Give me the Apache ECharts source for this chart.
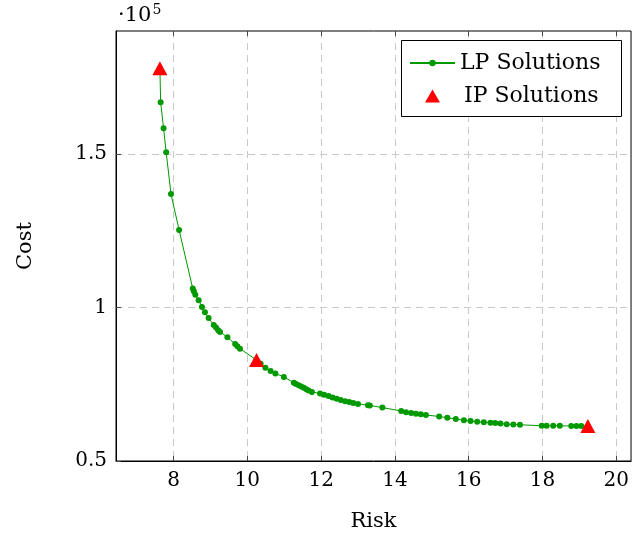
<!DOCTYPE html>
<html>
<head>
<meta charset="utf-8">
<title>LP / IP Solutions</title>
<script src="https://cdn.jsdelivr.net/npm/echarts@6/dist/echarts.min.js"></script>
<style>
  html, body { margin: 0; padding: 0; background: #fff; }
  #chart { width: 632px; height: 538px; }
</style>
</head>
<body>
<div id="chart"></div>
<script>
// data (risk, cost in $)
var lpRisk = [7.63, 7.65, 7.73, 7.80, 7.93, 8.15, 8.52, 8.55, 8.59, 8.68, 8.77, 8.85, 8.95,
  9.09, 9.15, 9.21, 9.26, 9.46, 9.67, 9.73, 9.80, 10.25, 10.36, 10.49, 10.63, 10.76, 10.99,
  11.26, 11.32, 11.39, 11.46, 11.53, 11.60, 11.66, 11.75, 11.97, 12.08, 12.20, 12.31, 12.42,
  12.53, 12.65, 12.76, 12.87, 13.00, 13.27, 13.32, 13.66, 14.17, 14.30, 14.44, 14.57, 14.70,
  14.84, 15.20, 15.42, 15.65, 15.87, 16.05, 16.23, 16.41, 16.59, 16.72, 16.86, 17.03, 17.21,
  17.39, 17.98, 18.11, 18.29, 18.47, 18.78, 18.92, 19.05, 19.23];
var lpCost = [178000, 166900, 158400, 150600, 137000, 125300, 106200, 105300, 104200, 102400,
  100200, 98500, 96600, 94300, 93500, 92600, 92000, 90300, 88100, 87400, 86600, 82900, 81700,
  80400, 79300, 78500, 77400, 75500, 75100, 74700, 74300, 73900, 73400, 73000, 72500, 72000,
  71600, 71200, 70700, 70300, 69900, 69500, 69200, 68900, 68600, 68200, 68100, 67400, 66300,
  65900, 65600, 65400, 65200, 65000, 64500, 64100, 63700, 63300, 63000, 62800, 62600, 62500,
  62400, 62200, 62000, 61900, 61800, 61500, 61500, 61500, 61500, 61400, 61400, 61400, 61400];
var ipRisk = [7.63, 10.25, 19.23];
var ipCost = [178000, 82900, 61400];

var xTicks = [8, 10, 12, 14, 16, 18, 20];
var yTicks = [50000, 100000, 150000];
var yTickLabels = ['0.5', '1', '1.5'];

var serif = 'DejaVu Serif';
var green = '#009900';
var triPath = 'path://M0,0L1,-1.732L2,0Z';

function pairs(xs, ys) {
  var out = [];
  for (var i = 0; i < xs.length; i++) out.push([xs[i], ys[i]]);
  return out;
}

var chart = echarts.init(document.getElementById('chart'));
chart.setOption({
  animation: false,
  backgroundColor: '#fff',
  title: {
    text: '{a|·10}{s|5}',
    left: 113,
    top: -2,
    textStyle: {
      fontWeight: 'normal',
      rich: {
        a: { fontFamily: serif, fontSize: 21, fontWeight: 'normal', color: '#000' },
        s: { fontFamily: serif, fontSize: 14, fontWeight: 'normal', color: '#000', verticalAlign: 'top', padding: [0, 0, 12, 1] }
      }
    }
  },
  // legend frame
  graphic: [{
    type: 'rect',
    left: 401,
    top: 40,
    shape: { width: 220, height: 76 },
    style: { fill: '#fff', stroke: '#000', lineWidth: 1 },
    z: 90
  }],
  legend: [{
    left: 409,
    top: 52,
    padding: 0,
    itemWidth: 45,
    itemHeight: 8,
    itemGap: 0,
    textStyle: { fontFamily: serif, fontSize: 22, color: '#000' },
    data: ['LP Solutions'],
    z: 100
  }, {
    left: 425,
    top: 85,
    padding: 0,
    itemWidth: 15,
    itemHeight: 14,
    textStyle: { fontFamily: serif, fontSize: 22, color: '#000', padding: [0, 0, 0, 19] },
    data: [{ name: 'IP Solutions', icon: triPath }],
    z: 100
  }],
  grid: {
    left: 116,
    top: 31,
    right: -3,
    bottom: 77,
    show: true,
    borderColor: '#000',
    borderWidth: 1
  },
  xAxis: [{
    type: 'value',
    min: 6.44,
    max: 20.4,
    name: 'Risk',
    nameLocation: 'middle',
    nameGap: 50,
    nameTextStyle: { fontFamily: serif, fontSize: 21, color: '#000' },
    axisLine: { show: true, onZero: false, lineStyle: { color: '#000', width: 1 } },
    axisTick: { inside: true, length: 5, customValues: xTicks, lineStyle: { color: '#444' } },
    axisLabel: { customValues: xTicks, margin: 10, fontFamily: serif, fontSize: 20, color: '#000' },
    splitLine: { show: true, lineStyle: { color: '#c8c8c8', type: [7, 5], width: 1 } }
  }, {
    type: 'value',
    position: 'top',
    min: 6.44,
    max: 20.4,
    axisLine: { show: false },
    axisTick: { inside: true, length: 5, customValues: xTicks, lineStyle: { color: '#444' } },
    axisLabel: { show: false },
    splitLine: { show: false }
  }],
  yAxis: {
    type: 'value',
    min: 50000,
    max: 190100,
    interval: 50000,
    name: 'Cost',
    nameLocation: 'middle',
    nameGap: 80,
    nameTextStyle: { fontFamily: serif, fontSize: 21, color: '#000' },
    axisLine: { show: true, onZero: false, lineStyle: { color: '#000', width: 1 } },
    axisTick: { inside: true, length: 5, customValues: yTicks, lineStyle: { color: '#444' } },
    axisLabel: {
      customValues: yTicks,
      margin: 9,
      fontFamily: serif,
      fontSize: 20,
      color: '#000',
      formatter: function (v) {
        var i = yTicks.indexOf(v);
        return i >= 0 ? yTickLabels[i] : '';
      }
    },
    splitLine: { show: true, lineStyle: { color: '#c8c8c8', type: [7, 5], width: 1 } }
  },
  series: [{
    name: 'LP Solutions',
    type: 'line',
    data: pairs(lpRisk, lpCost),
    symbol: 'circle',
    symbolSize: 6,
    showAllSymbol: true,
    lineStyle: { color: green, width: 1 },
    itemStyle: { color: green },
    z: 3
  }, {
    name: 'IP Solutions',
    type: 'scatter',
    data: pairs(ipRisk, ipCost),
    symbol: 'triangle',
    symbolSize: [15, 14],
    itemStyle: { color: '#ff0000', opacity: 1 },
    z: 4
  }]
});
</script>
</body>
</html>
